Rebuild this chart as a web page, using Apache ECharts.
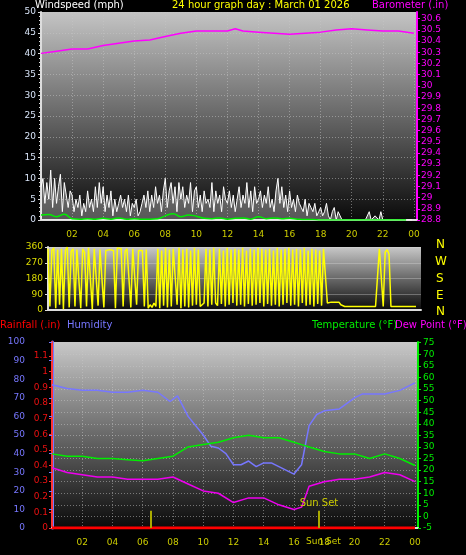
<!DOCTYPE html>
<html><head><meta charset="utf-8">
<script src="https://cdn.jsdelivr.net/npm/echarts@6/dist/echarts.min.js"></script>
<style>html,body{margin:0;background:#000}#c{width:466px;height:555px}</style>
</head><body><div id="c"></div>
<script>
// ---- data ----
const windStep = 0.125; // hours between gust samples
const windGust = [8,10,4,9,5,12,3,10,4,8,11,2,9,6,3,7,
6,2,5,3,6,1,4,2,7,3,5,2,8,3,9,4,
8,2,6,3,7,1,5,2,4,6,3,5,2,6,1,4,
3,5,1,2,4,6,3,7,2,6,3,8,4,6,2,7,
10,3,7,9,4,8,2,9,5,8,3,6,4,9,2,7,
8,3,6,2,7,4,5,3,9,2,7,4,6,2,8,5,
4,7,3,6,2,5,8,3,6,4,9,3,7,2,8,4,
5,7,3,6,4,8,3,5,2,7,10,4,8,3,6,2,
7,3,5,2,6,4,3,2,5,1,4,3,2,4,1,2,
3,1,2,4,1,0,2,3,0,2,1,0,
0,0,0,0,0,0,0,0,0,0,0,0,0,2,0,0,1,1,0,2,0,0,0,0,0,0,0,0,0,0,0,0,0,0,0,0];
const avgStep = 0.5;
const windAvg = [1.2,1.3,0.8,1.4,0.3,0.2,0.3,0.2,0.4,0.2,0.5,0.2,0.3,0.2,0.2,0.3,
1,1.5,0.8,1.2,0.9,0.4,0.3,0.5,0.2,0.4,0.5,0.2,0.8,0.3,0.5,0.3,0.4,0.2,0.1,0.1,
0,0,0,0,0,0,0,0,0,0,0,0];
const dirStep = 0.125;
const windDir = [350,20,340,355,10,345,30,350,5,340,360,15,335,350,20,345,
340,10,350,330,20,355,345,5,350,340,25,345,355,15,340,350,
345,350,340,10,355,345,350,20,335,350,340,15,350,345,30,340,
350,340,20,345,10,30,15,40,20,350,10,340,25,355,15,345,
20,350,340,30,355,10,345,20,350,15,340,25,355,30,345,20,
30,40,350,20,345,30,355,40,25,350,35,340,20,355,30,345,
40,350,25,345,30,355,20,340,35,350,25,345,30,355,40,350,
20,345,35,350,25,340,30,355,20,345,30,350,40,355,25,345,
30,350,20,345,40,355,25,340,30,350,20,345,35,340,25,350,
345,40,30,45,50,45,40,45,30,20,20,20,20,20,20,20,
20,20,20,20,20,20,20,20,20,20,20,20,350,340,20,330,
345,320,20,20,20,20,20,20,20,20,20,20,20,20,20,20];
const baroHours = [0,1,2,3,4,5,6,7,8,9,10,11,12,12.5,13,14,15,16,17,18,19,20,21,22,23,24];
const baro = [30.29,30.31,30.33,30.33,30.36,30.38,30.40,30.41,30.44,30.47,30.49,30.49,30.49,30.51,30.49,30.48,30.47,30.46,30.47,30.48,30.50,30.51,30.50,30.49,30.49,30.47];
const humHours = [0,1,2,3,4,5,6,7,7.8,8.3,9,10,10.5,11,11.5,12,12.5,13,13.5,14,14.5,15,15.5,16,16.5,17,17.5,18,19,19.5,20,20.5,21,22,23,24];
const humidity = [77,75,74,74,73,73,74,73,68,71,60,50,44,43,40,34,34,36,33,35,35,33,31,29,34,55,61,63,64,67,70,72,72,72,74,78];
const tdHours = [0,1,2,3,4,5,6,7,8,9,10,11,12,13,14,15,16,16.5,17,18,19,20,21,22,23,24];
const temperature = [27,26,26,25,25,24.5,24,25,26,30,31,32,34,35,34,34,32,31,30,28,27,27,25,27,25,22];
const dewPoint = [21,19,18,17,17,16,16,16,17,14,11,10,6,8,8,5,3,4,13,15,16,16,17,19,18,15];
const rainHours = [0,24];
const rainfall = [0,0];
const sunTimes = [6.5,17.65];
const xTickLabels = ['','02','04','06','08','10','12','14','16','18','20','22','00'];

const pairs = (xs, ys) => ys.map((v,i)=>[xs[i],v]);
const stepPairs = (step, ys) => ys.map((v,i)=>[i*step,v]);

const FONT = 'DejaVu Sans';
const dotted = {show:true,lineStyle:{color:'rgba(200,200,200,0.5)',type:[1,2],width:1}};
const bg = (top,bot)=>({type:'linear',x:0,y:0,x2:0,y2:1,colorStops:[{offset:0,color:top},{offset:1,color:bot}]});
const xl = {color:'#cccc00',fontSize:9,fontFamily:FONT,formatter:v=>xTickLabels[Math.round(v/2)]||''};

const chart = echarts.init(document.getElementById('c'));
chart.setOption({
  backgroundColor:'#000',
  animation:false,
  textStyle:{fontFamily:FONT},
  grid:[
    {left:41,top:12,width:376,height:208,show:true,borderWidth:0,backgroundColor:bg('#c4c4c4','#0a0a0a')},
    {left:48,top:247,width:373,height:63,show:true,borderWidth:0,backgroundColor:bg('#c8c8c8','#0a0a0a')},
    {left:52,top:342,width:366,height:186,show:true,borderWidth:0,backgroundColor:bg('#c8c8c8','#0a0a0a')}
  ],
  xAxis:[
    {gridIndex:0,type:'value',min:0,max:24.2,interval:2,axisLine:{lineStyle:{color:'#ddd',width:2}},axisTick:{show:false},axisLabel:{...xl,margin:10},splitLine:dotted},
    {gridIndex:1,type:'value',min:0,max:24.2,interval:2,axisLine:{lineStyle:{color:'#ddd',width:2}},axisTick:{show:false},axisLabel:{show:false},splitLine:{show:false}},
    {gridIndex:2,type:'value',min:0,max:24.2,interval:2,axisLine:{lineStyle:{color:'#ddd',width:2}},axisTick:{show:false},axisLabel:{...xl,margin:10},splitLine:dotted}
  ],
  yAxis:[
    {gridIndex:0,type:'value',position:'left',min:0,max:50,interval:5,axisLine:{show:true,lineStyle:{color:'#ddd',width:2}},axisTick:{show:true,length:3,lineStyle:{color:'#ddd'}},minorTick:{show:true,splitNumber:5,length:2,lineStyle:{color:'#ddd'}},axisLabel:{color:'#d8e4f8',fontSize:9,margin:5},splitLine:dotted},
    {gridIndex:0,type:'value',position:'right',min:28.8,max:30.66,interval:0.1,axisLine:{show:true,lineStyle:{color:'#ff00ff',width:2}},axisTick:{show:true,length:3,lineStyle:{color:'#ff00ff'}},axisLabel:{color:'#ff00ff',fontSize:9,margin:4,formatter:v=>String(parseFloat(v.toFixed(1))),showMaxLabel:false},splitLine:{show:false}},
    {gridIndex:1,type:'value',position:'left',min:0,max:360,interval:90,axisLine:{show:true,lineStyle:{color:'#ddd',width:2}},axisTick:{show:true,length:3,lineStyle:{color:'#ddd'}},axisLabel:{color:'#dddd00',fontSize:9,margin:5},splitLine:{show:true,lineStyle:{color:'rgba(220,220,220,0.35)',width:1}}},
    {gridIndex:2,type:'value',position:'left',min:0,max:100,interval:10,offset:22,axisLine:{show:true,lineStyle:{color:'#7777ff',width:3}},axisTick:{show:true,length:3,lineStyle:{color:'#7777ff'}},axisLabel:{color:'#7777ff',fontSize:9,margin:5},splitLine:{show:false}},
    {gridIndex:2,type:'value',position:'left',min:0,max:1.19,interval:0.1,axisLine:{show:true,lineStyle:{color:'#ff3333',width:2}},axisTick:{show:true,length:3,lineStyle:{color:'#ff3333'}},axisLabel:{color:'#ee1111',fontSize:9,margin:4,showMaxLabel:false,formatter:v=>String(parseFloat(v.toFixed(1)))},splitLine:{show:false}},
    {gridIndex:2,type:'value',position:'right',min:-5,max:75.3,interval:5,axisLine:{show:true,lineStyle:{color:'#00ee00',width:2}},axisTick:{show:true,length:3,lineStyle:{color:'#00ee00'}},axisLabel:{color:'#00ee00',fontSize:9,margin:5,showMaxLabel:false},splitLine:dotted}
  ],
  series:[
    {type:'line',xAxisIndex:0,yAxisIndex:0,data:stepPairs(windStep,windGust),symbol:'none',lineStyle:{color:'#ffffff',width:1},areaStyle:{color:'rgba(255,255,255,0.45)'}},
    {type:'line',xAxisIndex:0,yAxisIndex:0,data:stepPairs(avgStep,windAvg),symbol:'none',smooth:true,lineStyle:{color:'#00ee00',width:1.5}},
    {type:'line',xAxisIndex:0,yAxisIndex:1,data:pairs(baroHours,baro),symbol:'none',lineStyle:{color:'#ff00ff',width:1.5}},
    {type:'line',xAxisIndex:1,yAxisIndex:2,data:stepPairs(dirStep,windDir),symbol:'none',lineStyle:{color:'#ffff00',width:1.5}},
    {type:'line',xAxisIndex:2,yAxisIndex:3,data:pairs(humHours,humidity),symbol:'none',lineStyle:{color:'#7777ff',width:1.5}},
    {type:'line',xAxisIndex:2,yAxisIndex:5,data:pairs(tdHours,temperature),symbol:'none',lineStyle:{color:'#00ee00',width:1.5}},
    {type:'line',xAxisIndex:2,yAxisIndex:5,data:pairs(tdHours,dewPoint),symbol:'none',lineStyle:{color:'#ee00ee',width:1.5}},
    {type:'line',xAxisIndex:2,yAxisIndex:4,data:pairs(rainHours,rainfall),symbol:'none',lineStyle:{color:'#ff0000',width:3},
      markLine:{symbol:'none',silent:true,lineStyle:{color:'#aaaa00',type:'solid',width:2},
        data:[
          [{coord:[sunTimes[0],0]},{coord:[sunTimes[0],0.11]}],
          [{coord:[sunTimes[1],0]},{coord:[sunTimes[1],0.11],label:{show:true,position:'end',formatter:'Sun Set',color:'#cccc00',fontSize:10,distance:2}}]
        ],label:{show:false}}}
  ],
  graphic:[
    {type:'text',left:35,top:0,style:{text:'Windspeed (mph)',fill:'#fff',font:'10px '+FONT}},
    {type:'text',left:172,top:0,style:{text:'24 hour graph day : March 01 2026',fill:'#ffff00',font:'10px '+FONT}},
    {type:'text',left:372,top:0,style:{text:'Barometer (.in)',fill:'#ff00ff',font:'10px '+FONT}},
    {type:'text',left:436,top:239,style:{text:'N',fill:'#ffff00',font:'12px '+FONT}},
    {type:'text',left:435,top:256,style:{text:'W',fill:'#ffff00',font:'12px '+FONT}},
    {type:'text',left:436,top:273,style:{text:'S',fill:'#ffff00',font:'12px '+FONT}},
    {type:'text',left:436,top:290,style:{text:'E',fill:'#ffff00',font:'12px '+FONT}},
    {type:'text',left:436,top:306,style:{text:'N',fill:'#ffff00',font:'12px '+FONT}},
    {type:'text',left:0,top:320,style:{text:'Rainfall (.in)',fill:'#ff0000',font:'10px '+FONT}},
    {type:'text',left:67,top:320,style:{text:'Humidity',fill:'#7777ff',font:'10px '+FONT}},
    {type:'text',left:312,top:320,style:{text:'Temperature (°F)',fill:'#00ee00',font:'10px '+FONT}},
    {type:'text',left:395,top:320,style:{text:'Dew Point (°F)',fill:'#ff00ff',font:'10px '+FONT}},
    {type:'text',left:306,top:537,style:{text:'Sun Set',fill:'#cccc00',font:'9px '+FONT}}
  ]
});
</script></body></html>
